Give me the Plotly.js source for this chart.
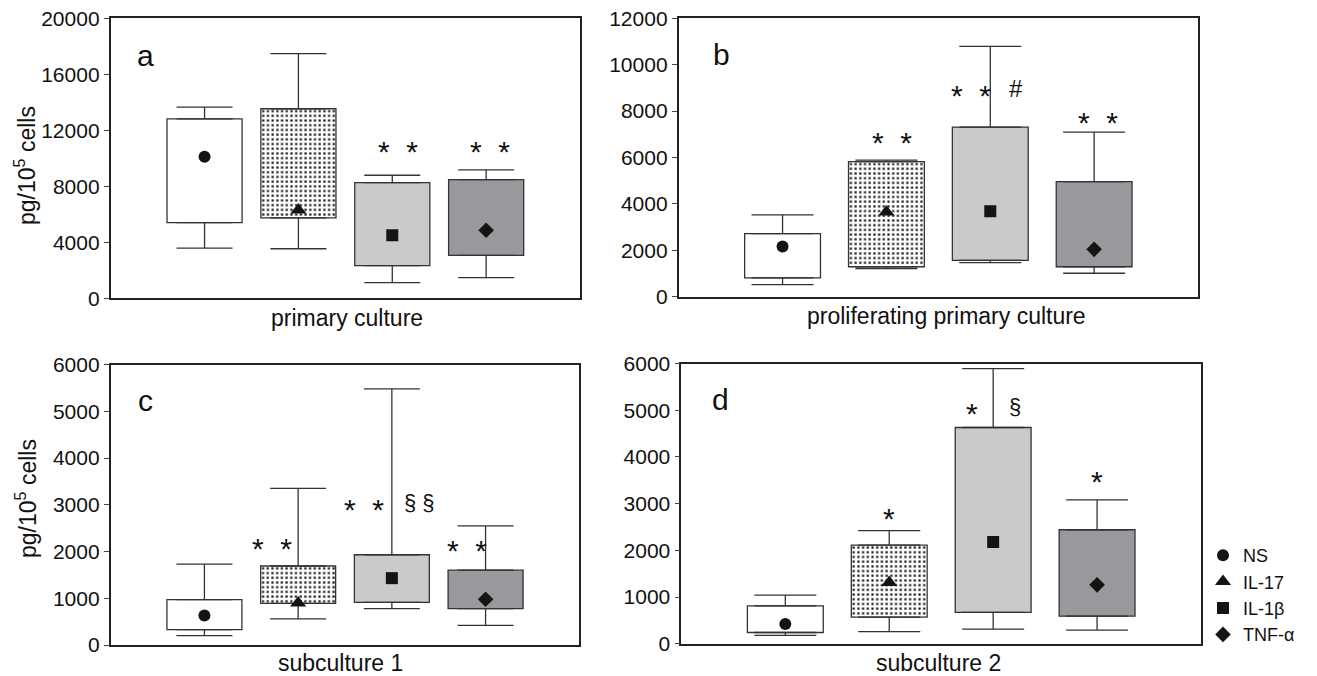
<!DOCTYPE html>
<html>
<head>
<meta charset="utf-8">
<script src="https://cdn.plot.ly/plotly-3.0.1.min.js"></script>
<style>
html,body{margin:0;padding:0;background:#ffffff;}
#chart{width:1317px;height:676px;}
</style>
</head>
<body>
<div id="chart"></div>
<script>
// ---------- data ----------
const groups = ['NS', 'IL-17', 'IL-1β', 'TNF-α'];
const panelLetters = ['a', 'b', 'c', 'd'];
const panelTitles = ['primary culture', 'proliferating primary culture', 'subculture 1', 'subculture 2'];
const yUnit = 'pg/10<sup>5</sup> cells';

// panel a – primary culture
const lowA  = [3590, 3540, 1120, 1480];
const q1A   = [5400, 5740, 2330, 3070];
const midA  = [10110, 6310, 4500, 4860];
const q3A   = [12810, 13540, 8260, 8480];
const highA = [13660, 17470, 8790, 9170];

// panel b – proliferating primary culture
const lowB  = [520, 1210, 1470, 1010];
const q1B   = [810, 1290, 1570, 1290];
const midB  = [2160, 3650, 3680, 2040];
const q3B   = [2720, 5820, 7310, 4960];
const highB = [3530, 5890, 10790, 7090];

// panel c – subculture 1
const lowC  = [200, 560, 780, 420];
const q1C   = [330, 890, 910, 780];
const midC  = [630, 900, 1430, 980];
const q3C   = [970, 1690, 1930, 1600];
const highC = [1730, 3350, 5480, 2550];

// panel d – subculture 2
const lowD  = [180, 260, 310, 290];
const q1D   = [240, 570, 670, 590];
const midD  = [420, 1310, 2180, 1260];
const q3D   = [810, 2110, 4630, 2440];
const highD = [1040, 2420, 5890, 3080];

const yMax = [20000, 12000, 6000, 6000];
const yStep = [4000, 2000, 1000, 1000];

// significance marks: [category position, value, text]
const marksA = [[2.06, 10950, '*  *'], [3.04, 10950, '*  *']];
const marksB = [[1.05, 6930, '*  *'], [1.81, 8980, '*  *'], [2.25, 8980, '#'], [3.04, 7800, '*  *']];
const marksC = [[0.72, 2220, '*  *'], [1.70, 3040, '*  *'], [2.29, 3040, '§ §'], [2.80, 2170, '*  *']];
const marksD = [[1.0, 2840, '*'], [1.80, 5070, '*'], [2.21, 5070, '§'], [3.0, 3620, '*']];

// ---------- styles / layout ----------
const W = 1317, H = 676;
const FONT = 'Liberation Sans, Arial, Helvetica, sans-serif';
const fills = ['#ffffff', '#ffffff', '#c9cacc', '#98999c'];
const patterned = [false, true, false, false];
const symbols = ['circle', 'triangle-up', 'square', 'diamond'];
const symbolSizes = [12, 14, 12, 12];
// pixel frames [left, right, top, bottom]
const frames = [[110.7, 580, 18.3, 298.3], [678.7, 1198, 18.3, 296.7], [110.7, 579.3, 364.5, 645], [681.4, 1201, 363.5, 643.7]];
const boxWidths = [0.80, 0.73, 0.80, 0.73];
const capHalf = [28, 31, 28, 31];

const lows = [lowA, lowB, lowC, lowD];
const q1s = [q1A, q1B, q1C, q1D];
const mids = [midA, midB, midC, midD];
const q3s = [q3A, q3B, q3C, q3D];
const highs = [highA, highB, highC, highD];
const marks = [marksA, marksB, marksC, marksD];
const xs = [0, 1, 2, 3];

const traces = [];
const layout = {
  width: W, height: H, autosize: false,
  margin: {l: 0, r: 0, t: 0, b: 0, pad: 0},
  paper_bgcolor: '#ffffff', plot_bgcolor: '#ffffff',
  font: {family: FONT, color: '#111111', size: 20},
  showlegend: true,
  legend: {
    x: 1203 / W, y: 1 - 537 / H, xanchor: 'left', yanchor: 'top',
    bgcolor: 'rgba(0,0,0,0)', borderwidth: 0,
    font: {family: FONT, size: 18, color: '#111111'},
    itemsizing: 'trace', tracegroupgap: 0
  },
  annotations: [],
  images: [],
  barmode: 'overlay'
};

// dotted texture used for the IL-17 boxes
function dotTexture(wPx, hPx) {
  const step = 4.7;
  let s = '<svg xmlns="http://www.w3.org/2000/svg" width="' + wPx + '" height="' + hPx + '">' +
    '<defs><pattern id="d" width="' + step + '" height="' + step + '" patternUnits="userSpaceOnUse">' +
    '<rect x="1.3" y="1.3" width="2.2" height="2.2" fill="#161616"/></pattern></defs>' +
    '<rect width="100%" height="100%" fill="#ffffff"/><rect width="100%" height="100%" fill="url(#d)"/></svg>';
  return 'data:image/svg+xml;charset=utf-8,' + encodeURIComponent(s);
}

for (let p = 0; p < 4; p++) {
  const sfx = p === 0 ? '' : String(p + 1);
  const xa = 'x' + sfx, ya = 'y' + sfx;
  const [L, R, T, B] = frames[p];
  layout['xaxis' + sfx] = {
    domain: [L / W, R / W], range: [-1, 4], anchor: ya,
    showticklabels: false, ticks: '', showgrid: false, zeroline: false,
    showline: true, mirror: true, linecolor: '#222222', linewidth: 1.8, fixedrange: true
  };
  layout['yaxis' + sfx] = {
    domain: [1 - B / H, 1 - T / H], range: [0, yMax[p]], anchor: xa,
    tick0: 0, dtick: yStep[p], tickformat: 'd', ticks: 'outside', ticklen: 5, tickwidth: 1, tickcolor: '#444',
    tickfont: {family: FONT, size: 21, color: '#111'},
    showgrid: false, zeroline: false,
    showline: true, mirror: true, linecolor: '#222222', linewidth: 1.8, fixedrange: true
  };

  // boxes (interquartile range) as floating bars
  traces.push({
    type: 'bar', xaxis: xa, yaxis: ya, x: xs,
    base: q1s[p], y: q3s[p].map((v, i) => v - q1s[p][i]),
    width: boxWidths[p], showlegend: false, hoverinfo: 'skip',
    marker: {color: xs.map(i => patterned[i] ? 'rgba(255,255,255,0)' : fills[i]), line: {color: '#333333', width: 1.3}}
  });
  // dotted texture behind the transparent IL-17 box, sized from the same values
  const pxPerX = (R - L) / 5, pxPerY = (B - T) / yMax[p];
  xs.filter(i => patterned[i]).forEach(i => {
    layout.images.push({
      source: dotTexture(boxWidths[p] * pxPerX, (q3s[p][i] - q1s[p][i]) * pxPerY),
      xref: xa, yref: ya, x: xs[i] - boxWidths[p] / 2, y: q3s[p][i],
      sizex: boxWidths[p], sizey: q3s[p][i] - q1s[p][i],
      sizing: 'stretch', xanchor: 'left', yanchor: 'top', layer: 'below', opacity: 1
    });
  });
  // upper whiskers
  traces.push({
    type: 'scatter', mode: 'markers', xaxis: xa, yaxis: ya, x: xs, y: q3s[p],
    marker: {size: 1, opacity: 0}, showlegend: false, hoverinfo: 'skip',
    error_y: {type: 'data', symmetric: false, array: highs[p].map((v, i) => v - q3s[p][i]),
      arrayminus: xs.map(() => 0), color: '#333333', thickness: 1.3, width: capHalf[p]}
  });
  // lower whiskers
  traces.push({
    type: 'scatter', mode: 'markers', xaxis: xa, yaxis: ya, x: xs, y: q1s[p],
    marker: {size: 1, opacity: 0}, showlegend: false, hoverinfo: 'skip',
    error_y: {type: 'data', symmetric: false, array: xs.map(() => 0),
      arrayminus: q1s[p].map((v, i) => v - lows[p][i]), color: '#333333', thickness: 1.3, width: capHalf[p]}
  });
  // centre markers, one trace per group (legend from panel a)
  for (let g = 0; g < 4; g++) {
    traces.push({
      type: 'scatter', mode: 'markers', xaxis: xa, yaxis: ya,
      x: [xs[g]], y: [mids[p][g]], name: groups[g],
      showlegend: p === 0, hoverinfo: 'name+y',
      marker: {symbol: symbols[g], size: symbolSizes[g], color: '#141414', line: {width: 0}}
    });
  }

  // significance marks
  marks[p].forEach(m => {
    const isStar = m[2].indexOf('*') >= 0;
    layout.annotations.push({
      xref: xa, yref: ya, x: m[0], y: m[1], text: m[2].replace(/ /g, '\u00a0'),
      showarrow: false, xanchor: 'center', yanchor: 'middle',
      yshift: isStar ? -7 : 0,
      font: {family: FONT, size: isStar ? 30 : (m[2] === '#' ? 24 : 22), color: '#111'}
    });
  });
}

// panel letters
const letterPos = [[145, 55], [721, 54.6], [145, 400], [720, 399.5]];
letterPos.forEach((pos, i) => {
  layout.annotations.push({xref: 'paper', yref: 'paper', x: pos[0] / W, y: 1 - pos[1] / H,
    text: panelLetters[i], showarrow: false, xanchor: 'center', yanchor: 'middle',
    font: {family: FONT, size: 30, color: '#111'}});
});
// x titles
const xTitlePos = [[347, 318], [946, 316], [340, 663], [938, 663]];
xTitlePos.forEach((pos, i) => {
  layout.annotations.push({xref: 'paper', yref: 'paper', x: pos[0] / W, y: 1 - pos[1] / H,
    text: panelTitles[i], showarrow: false, xanchor: 'center', yanchor: 'middle',
    font: {family: FONT, size: 23, color: '#111'}});
});
// y titles (left panels only)
[[25, 166], [26, 499]].forEach(pos => {
  layout.annotations.push({xref: 'paper', yref: 'paper', x: pos[0] / W, y: 1 - pos[1] / H,
    text: yUnit, textangle: -90, showarrow: false, xanchor: 'center', yanchor: 'middle',
    font: {family: FONT, size: 23, color: '#111'}});
});

Plotly.newPlot('chart', traces, layout, {displayModeBar: false});
</script>
</body>
</html>
